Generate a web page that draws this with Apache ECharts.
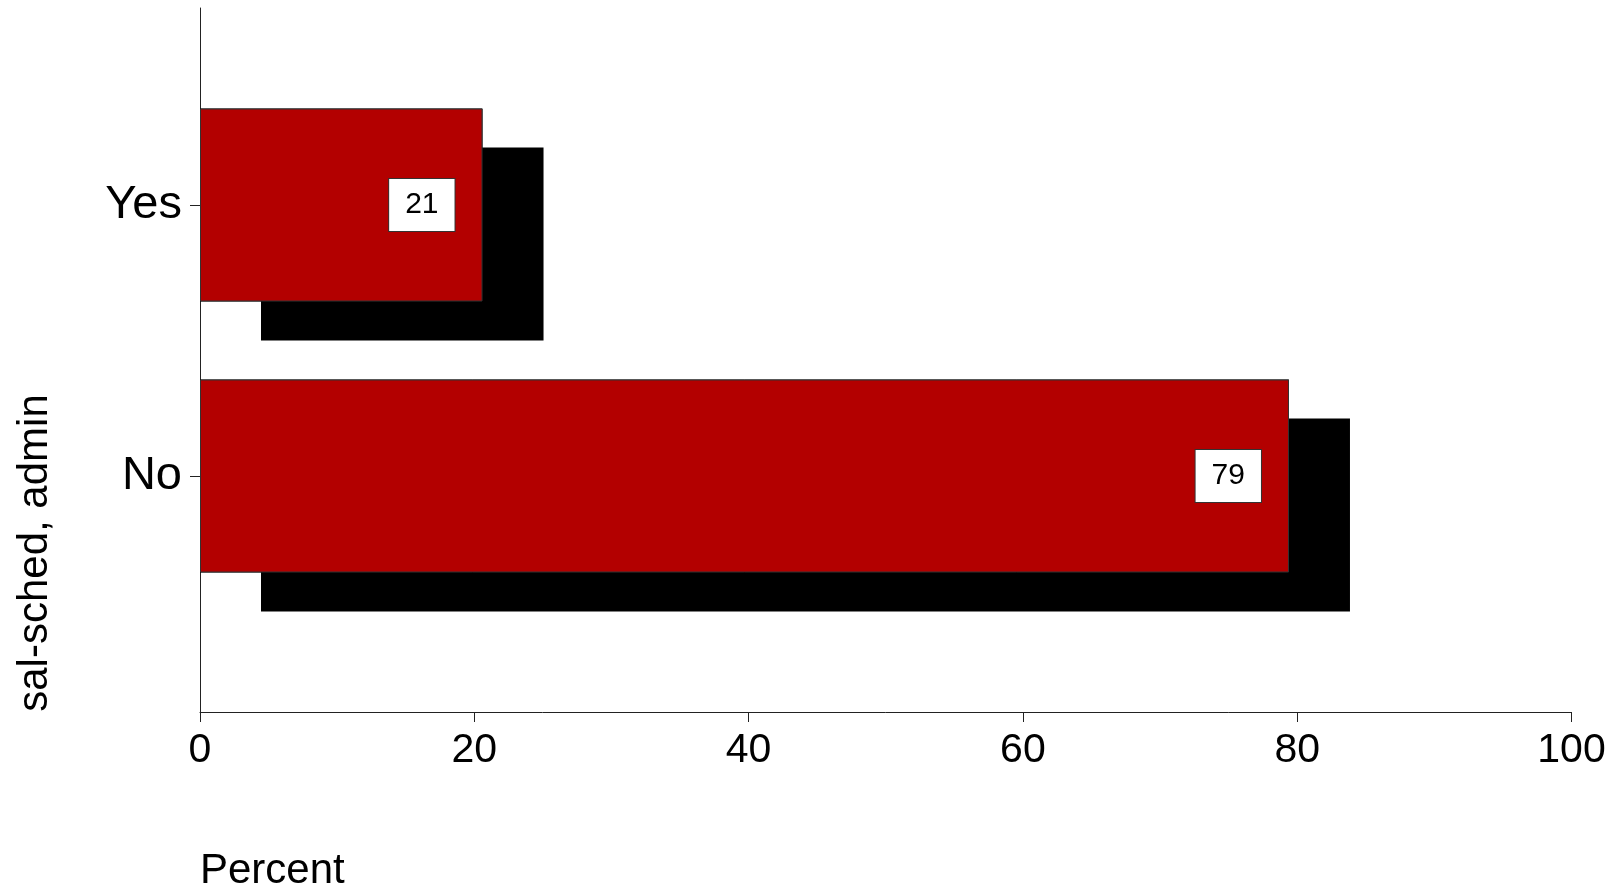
<!DOCTYPE html>
<html>
<head>
<meta charset="utf-8">
<script src="https://cdn.jsdelivr.net/npm/echarts@6/dist/echarts.min.js"></script>
<style>html,body{margin:0;padding:0;background:#fff}#c{width:1617px;height:890px}</style>
</head>
<body>
<div id="c"></div>
<script>
const categories = ['No', 'Yes'];
const percentValues = [79.4, 20.6];
const xTicks = [0, 20, 40, 60, 80, 100];
const xAxisTitle = 'Percent';
const yAxisTitle = 'sal-sched, admin';

const FONT = "'Liberation Sans', Arial, sans-serif";
const chart = echarts.init(document.getElementById('c'), null, {renderer: 'canvas'});
const lineColor = '#222';

chart.setOption({
  animation: false,
  backgroundColor: '#fff',
  title: {
    text: xAxisTitle, left: 200, top: 850, padding: 0,
    textStyle: {fontFamily: FONT, fontSize: 42, fontWeight: 'normal', color: '#000'}
  },
  graphic: [{
    type: 'text', x: 35, y: 553, rotation: Math.PI / 2,
    style: {text: yAxisTitle, fontFamily: FONT, fontSize: 42, fill: '#000', textAlign: 'center', textVerticalAlign: 'middle'}
  }],
  grid: [
    {left: 200, right: 45.5, top: 8, bottom: 178, containLabel: false},
    {left: 200, right: 45.5, top: 69.5, bottom: 278.5, containLabel: false}
  ],
  xAxis: [
    {
      gridIndex: 0, type: 'value', min: xTicks[0], max: xTicks[xTicks.length - 1], interval: 20,
      axisLine: {show: true, lineStyle: {color: lineColor, width: 1}},
      axisTick: {show: true, length: 10, lineStyle: {color: lineColor}},
      axisLabel: {fontFamily: FONT, fontSize: 41, color: '#000', margin: 18},
      splitLine: {show: false}
    },
    {
      gridIndex: 1, type: 'value', min: xTicks[0], max: xTicks[xTicks.length - 1],
      show: false
    }
  ],
  yAxis: [
    {
      gridIndex: 0, type: 'value', min: 0, max: 1,
      axisLine: {show: true, lineStyle: {color: lineColor, width: 1}},
      axisTick: {show: false}, axisLabel: {show: false}, splitLine: {show: false}
    },
    {
      gridIndex: 1, type: 'category', data: categories,
      axisLine: {show: false},
      axisTick: {show: true, alignWithLabel: true, length: 10, lineStyle: {color: lineColor}},
      axisLabel: {fontFamily: FONT, fontSize: 47, color: '#000', margin: 18},
      splitLine: {show: false}
    }
  ],
  series: [
    {
      // drop shadow layer
      type: 'bar', xAxisIndex: 1, yAxisIndex: 1,
      data: percentValues, barWidth: 193, barGap: '-100%', z: 2,
      itemStyle: {
        color: '#000', borderWidth: 0,
        shadowColor: '#000', shadowOffsetX: 61, shadowOffsetY: 39, shadowBlur: 0
      },
      silent: true
    },
    {
      type: 'bar', xAxisIndex: 1, yAxisIndex: 1,
      data: percentValues, barWidth: 193, barGap: '-100%', z: 3,
      itemStyle: {color: '#b30000', borderColor: '#333', borderWidth: 1},
      label: {
        show: true, position: 'insideRight', distance: 28,
        formatter: p => String(Math.round(p.value)),
        fontFamily: FONT, fontSize: 30, color: '#000',
        backgroundColor: '#fff', borderColor: '#333', borderWidth: 1,
        padding: [11, 16, 11, 16], lineHeight: 30
      }
    }
  ]
});
</script>
</body>
</html>
